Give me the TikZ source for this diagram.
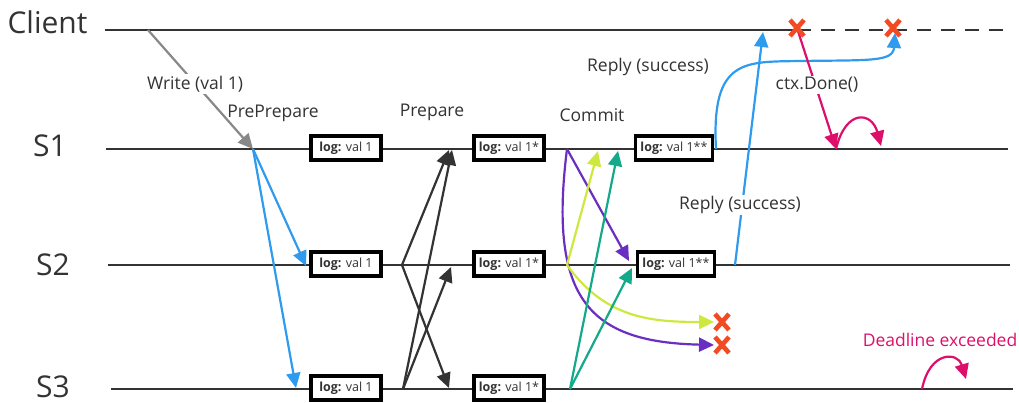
\documentclass[tikz,border=0pt]{standalone}
\usepackage{fontspec}
\setmainfont{Open Sans}
\usetikzlibrary{arrows.meta,calc}
\definecolor{ink}{HTML}{333333}
\definecolor{msggray}{HTML}{888888}
\definecolor{preblue}{HTML}{2F9BEF}
\definecolor{cpurple}{HTML}{6A2EC0}
\definecolor{cyellow}{HTML}{CFE83F}
\definecolor{cteal}{HTML}{14A98B}
\definecolor{dpink}{HTML}{DD0F6B}
\definecolor{failred}{HTML}{F24A22}
\tikzset{
  timeline/.style={line width=2.6pt, draw=ink},
  proc/.style={font=\fontsize{30}{32}\selectfont, text=ink},
  logbox/.style={draw=black, line width=3.2pt, fill=white, minimum width=70pt, minimum height=24pt, inner sep=0pt, font=\fontsize{12.5}{14}\selectfont, text=ink},
  msg/.style={line width=2.2pt, -{Triangle[length=15pt,width=14pt]}},
  lbl/.style={font=\fontsize{17.5}{20}\selectfont, text=ink, fill=white, inner sep=1.5pt},
  xmark/.style={draw=failred, line width=4.6pt},
}
\newcommand{\failx}[1]{\draw[xmark] ($#1+(-7,-8)$) -- ($#1+(7,8)$) ($#1+(-7,8)$) -- ($#1+(7,-8)$);}
\begin{document}
\begin{tikzpicture}[x=1pt,y=-1pt]
\useasboundingbox (0,0) rectangle (1019,403);

% process names
\node[proc, anchor=west] (client) at (4,22) {Client};
\node[proc] (s1n) at (50,146) {S1};
\node[proc] (s2n) at (53,265) {S2};
\node[proc] (s3n) at (53,387) {S3};

% time lines
\coordinate (c0) at (105,30);
\coordinate (cx) at (797,30);
\coordinate (c1) at (1010,30);
\coordinate (a0) at (106,149);
\coordinate (a1) at (1008,149);
\coordinate (b0) at (108,265);
\coordinate (b1) at (1010,265);
\coordinate (d0) at (111,389);
\coordinate (d1) at (1013,389);
\draw[timeline] (c0) -- (cx);
\draw[timeline, dash pattern=on 14pt off 10pt] (cx) -- (c1);
\draw[timeline] (a0) -- (a1);
\draw[timeline] (b0) -- (b1);
\draw[timeline] (d0) -- (d1);

% log entries
\node[logbox] (l11) at (346,148) {\textbf{log:} val 1};
\node[logbox] (l12) at (509,148) {\textbf{log:} val 1*};
\node[logbox, minimum width=77pt] (l13) at (674,148) {\textbf{log:} val 1**};
\node[logbox] (l21) at (346,264) {\textbf{log:} val 1};
\node[logbox] (l22) at (509,264) {\textbf{log:} val 1*};
\node[logbox, minimum width=77pt] (l23) at (676,264) {\textbf{log:} val 1**};
\node[logbox] (l31) at (346,388) {\textbf{log:} val 1};
\node[logbox] (l32) at (509,388) {\textbf{log:} val 1*};

% client write
\coordinate (w0) at (148,30);
\coordinate (w1) at (253,149);
\draw[msg, color=msggray] (w0) -- (w1);
\node[lbl] (wl) at (195,84) {Write (val 1)};

% pre-prepare
\coordinate (pp2) at (306,266);
\coordinate (pp3) at (296,388);
\draw[msg, color=preblue] (w1) -- (pp2);
\draw[msg, color=preblue] (w1) -- (pp3);
\node[lbl, fill=none] (ppl) at (273,113) {PrePrepare};

% prepare
\coordinate (p2) at (402,265);
\coordinate (p3) at (403,389);
\coordinate (p1a) at (449,150);
\coordinate (p1b) at (452,150);
\coordinate (p2t) at (451,267);
\coordinate (p3t) at (449,388);
\draw[msg, color=ink] (p2) -- (p1a);
\draw[msg, color=ink] (p2) -- (p3t);
\draw[msg, color=ink] (p3) -- (p1b);
\draw[msg, color=ink] (p3) -- (p2t);
\node[lbl, fill=none] (prl) at (432,112) {Prepare};

% commit
\coordinate (k1) at (567,149);
\coordinate (k2) at (567,265);
\coordinate (k3) at (570,389);
\coordinate (ky) at (714,322);
\coordinate (kp) at (714,345);
\draw[msg, color=cpurple] (k1) -- (629,261);
\draw[msg, color=cpurple] (k1) .. controls (548,300) and (590,342) .. (kp);
\draw[msg, color=cyellow] (k2) -- (598,151);
\draw[msg, color=cyellow] (k2) .. controls (605,318) and (650,322) .. (ky);
\draw[msg, color=cteal] (k3) -- (618,151);
\draw[msg, color=cteal] (k3) -- (632,268);
\node[lbl, fill=none] (kl) at (592,115) {Commit};
\failx{(ky)+(8,0)}
\failx{(kp)+(8,0)}

% replies
\coordinate (r2) at (735,265);
\coordinate (r2t) at (763,32);
\coordinate (r1) at (716,149);
\coordinate (r1t) at (895,33);
\draw[msg, color=preblue] (r2) -- (r2t);
\node[lbl] (rl2) at (740,205) {Reply (success)};
\draw[msg, color=preblue] (r1) .. controls (711,58) and (745,62) .. (800,61) .. controls (870,60) and (893,62) .. (r1t);
\node[lbl, fill=none] (rl1) at (648,67) {Reply (success)};

% client cancellation
\coordinate (x1) at (797,28);
\coordinate (x2) at (893,28);
\coordinate (cd) at (836,149);
\draw[msg, color=dpink] (x1) -- (cd);
\node[lbl] (cdl) at (817,85) {ctx.Done()};
\failx{(x1)}
\failx{(x2)}
\draw[msg, color=dpink] (cd) .. controls (846,108) and (872,112) .. (881,146);

% server deadline
\coordinate (dl) at (922,389);
\draw[msg, color=dpink] (dl) .. controls (930,350) and (958,352) .. (966,379);
\node[lbl, fill=none, text=dpink] (dll) at (940,340) {Deadline exceeded};
\end{tikzpicture}
\end{document}
